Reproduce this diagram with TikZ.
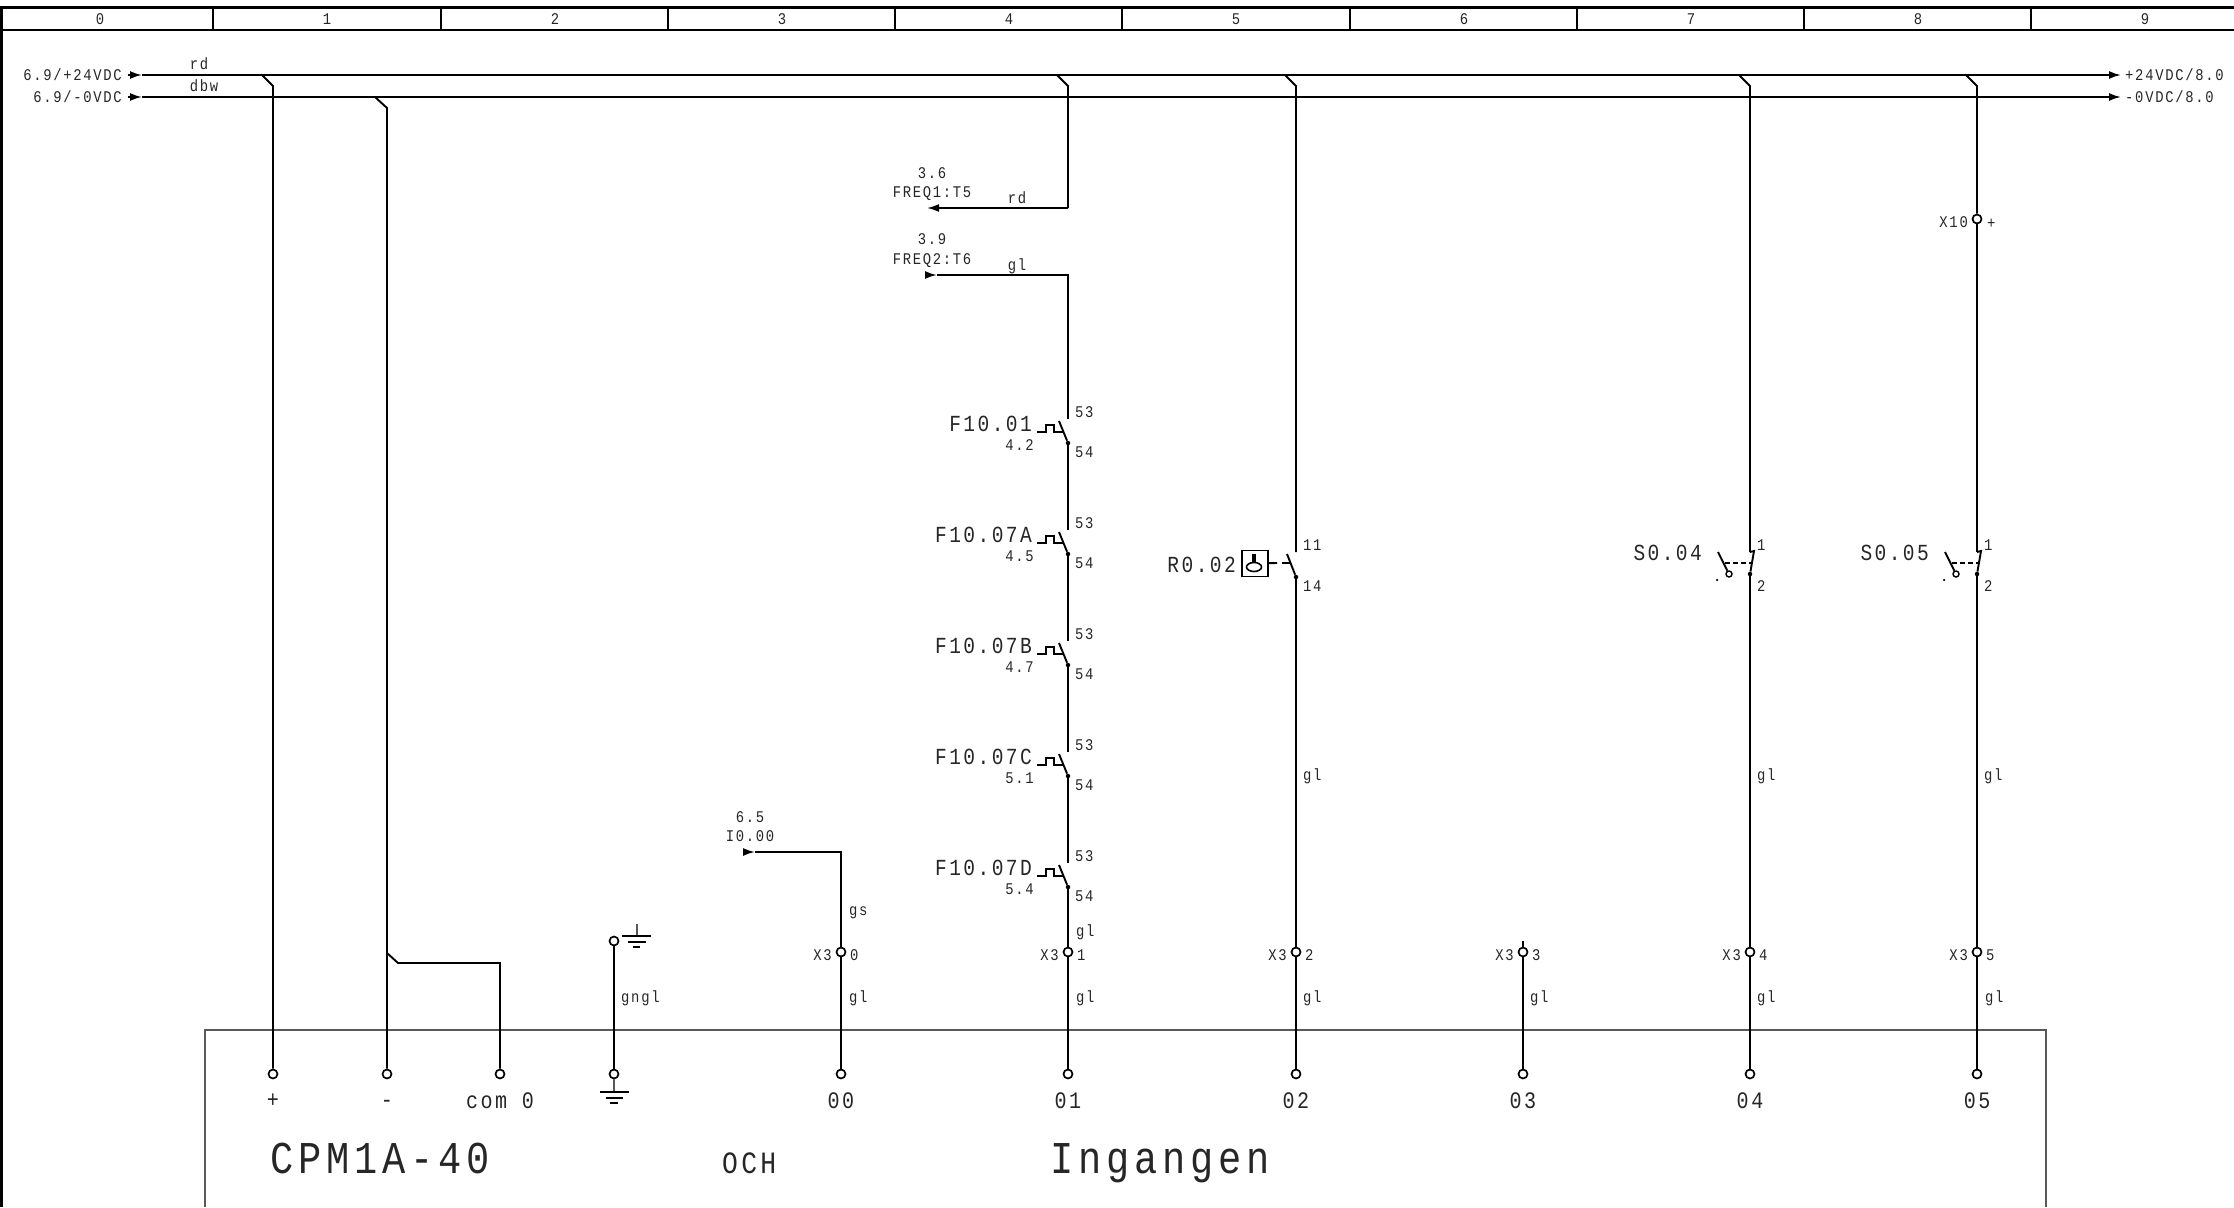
\documentclass[tikz,border=0pt]{standalone}
\usepackage{fontspec}
\newfontfamily\cadfont[LetterSpace=10.5,FakeStretch=0.85]{Liberation Mono}
\usetikzlibrary{arrows.meta,shapes.geometric}
\newcommand{\cadsmall}{\fontsize{16.3}{18}\cadfont}
\newcommand{\cadmid}{\fontsize{23}{26}\cadfont}
\newcommand{\cadbig}{\fontsize{45.5}{48}\cadfont}
\newcommand{\cadport}{\fontsize{23.6}{26}\cadfont}
\newcommand{\cadoch}{\fontsize{31}{34}\cadfont}
\begin{document}
\begin{tikzpicture}
[
    x=1pt, y=-1pt,
    wire/.style={line width=1.9pt, line join=miter},
    thinline/.style={line width=1.1pt, draw=black!65},
    term/.style={circle, draw, fill=white, line width=1.7pt, minimum size=9pt, inner sep=0pt},
    dot/.style={circle, fill=black, minimum size=4.5pt, inner sep=0pt},
    txt/.style={inner sep=0pt, font=\cadsmall, text=black!85},
    mid/.style={inner sep=0pt, font=\cadmid, text=black!85},
    port/.style={inner sep=0pt, font=\cadport, text=black!85},
    tipl/.style={-{Latex[length=12pt,width=8pt]}},
    contact/.pic={
        \coordinate (top) at (0,-24);
        \node[dot] (d) at (0,0) {};
        \coordinate (b) at (-9,-22);
        \coordinate (a1) at (-31,-11);
        \coordinate (a2) at (-22,-11);
        \coordinate (a3) at (-22,-18);
        \coordinate (a4) at (-14,-18);
        \coordinate (a5) at (-14,-11);
        \coordinate (a6) at (-5,-11);
        \draw[wire] (d) -- (b);
        \draw[wire,line width=1.6pt] (a1) -- (a2) -- (a3) -- (a4) -- (a5) -- (a6);
    },
    pushb/.pic={
        \coordinate (top) at (0,-22);
        \coordinate (st) at (4,-23);
        \node[dot] (d) at (0,0) {};
        \coordinate (h) at (2,-11);
        \coordinate (k) at (-25,-11);
        \coordinate (b1) at (-32,-22);
        \node[circle, draw, fill=white, line width=1.4pt, minimum size=6pt, inner sep=0pt] (r) at (-21,0) {};
        \node[circle, fill=black, minimum size=2.5pt, inner sep=0pt] (e) at (-33,6) {};
        \draw[wire] (d) -- (st) -- (top);
        \draw[wire] (b1) -- (r);
        \draw[wire,dashed,dash pattern=on 5pt off 3pt] (k) -- (h);
    },
]
\useasboundingbox (0,0) rectangle (2234,1207);

% frame and column strip
\draw[line width=3pt] (0,8) -- (2234,8);
\draw[line width=3pt] (1,7) -- (1,1207);
\coordinate (stripl) at (0,30);
\coordinate (stripr) at (2234,30);
\draw[line width=1.3pt] (stripl) -- (stripr);
\draw[line width=1.1pt] (213,8) -- (213,30);
\draw[line width=1.1pt] (441,8) -- (441,30);
\draw[line width=1.1pt] (668,8) -- (668,30);
\draw[line width=1.1pt] (895,8) -- (895,30);
\draw[line width=1.1pt] (1122,8) -- (1122,30);
\draw[line width=1.1pt] (1350,8) -- (1350,30);
\draw[line width=1.1pt] (1577,8) -- (1577,30);
\draw[line width=1.1pt] (1804,8) -- (1804,30);
\draw[line width=1.1pt] (2031,8) -- (2031,30);
\node[txt, anchor=base] (col0) at (100,25) {0};
\node[txt, anchor=base] (col1) at (327,25) {1};
\node[txt, anchor=base] (col2) at (555,25) {2};
\node[txt, anchor=base] (col3) at (782,25) {3};
\node[txt, anchor=base] (col4) at (1009,25) {4};
\node[txt, anchor=base] (col5) at (1236,25) {5};
\node[txt, anchor=base] (col6) at (1464,25) {6};
\node[txt, anchor=base] (col7) at (1691,25) {7};
\node[txt, anchor=base] (col8) at (1918,25) {8};
\node[txt, anchor=base] (col9) at (2145,25) {9};

% plc box
\draw[thinline] (205,1207) -- (205,1030) -- (2046,1030) -- (2046,1207);

% buses
\coordinate (pstub) at (128,75);
\coordinate (ptip) at (142,75);
\coordinate (pend) at (2121,75);
\coordinate (mstub) at (128,97);
\coordinate (mtip) at (142,97);
\coordinate (mend) at (2121,97);
\draw[wire, tipl] (pstub) -- (ptip);
\draw[wire, tipl] (mstub) -- (mtip);
\draw[wire, tipl] (ptip) -- (pend);
\draw[wire, tipl] (mtip) -- (mend);
\node[txt, anchor=base east] (inp) at (122,80) {6.9/+24VDC};
\node[txt, anchor=base east] (inm) at (122,102) {6.9/-0VDC};
\node[txt, anchor=base] (rdbus) at (199,70) {rd};
\node[txt, anchor=base] (dbwbus) at (204,92) {dbw};
\node[txt, anchor=base west] (outp) at (2125,80) {+24VDC/8.0};
\node[txt, anchor=base west] (outm) at (2125,102) {-0VDC/8.0};

% terminals on the plc
\node[term] (tplus) at (273,1074) {};
\node[term] (tminus) at (387,1074) {};
\node[term] (tcom) at (500,1074) {};
\node[term] (tgnd) at (614,1074) {};
\node[term] (t00) at (841,1074) {};
\node[term] (t01) at (1068,1074) {};
\node[term] (t02) at (1296,1074) {};
\node[term] (t03) at (1523,1074) {};
\node[term] (t04) at (1750,1074) {};
\node[term] (t05) at (1977,1074) {};
\node[port, anchor=base] (lplus) at (273,1107) {+};
\node[port, anchor=base] (lminus) at (387,1107) {-};
\node[port, anchor=base] (lcom) at (500,1108) {com 0};
\node[port, anchor=base] (l00) at (841,1108) {00};
\node[port, anchor=base] (l01) at (1068,1108) {01};
\node[port, anchor=base] (l02) at (1296,1108) {02};
\node[port, anchor=base] (l03) at (1523,1108) {03};
\node[port, anchor=base] (l04) at (1750,1108) {04};
\node[port, anchor=base] (l05) at (1977,1108) {05};
\node[inner sep=0pt, font=\cadbig, text=black!85, anchor=base west] (plcname) at (270,1173) {CPM1A-40};
\node[inner sep=0pt, font=\cadoch, text=black!85, anchor=base west] (och) at (722,1173) {OCH};
\node[inner sep=0pt, font=\cadbig, text=black!85, anchor=base west] (ing) at (1050,1173) {Ingangen};

% supply wires
\coordinate (tap1) at (262,75);
\coordinate (tap1b) at (273,86);
\coordinate (tap2) at (375,97);
\coordinate (tap2b) at (387,108);
\coordinate (com1) at (387,953);
\coordinate (com2) at (398,963);
\coordinate (com3) at (500,963);
\draw[wire] (tap1) -- (tap1b) -- (tplus);
\draw[wire] (tap2) -- (tap2b) -- (tminus);
\draw[wire] (com1) -- (com2) -- (com3) -- (tcom);

% earth
\node[term] (tgndt) at (614,941) {};
\draw[wire] (tgndt) -- (tgnd);
\node[txt, anchor=base west] (gngl) at (621,1002) {gngl};
\draw[thinline] (637,924) -- (637,936);
\draw[wire, line width=1.3pt] (622,936) -- (651,936);
\draw[wire] (628,942) -- (646,942);
\draw[wire] (633,947) -- (640,947);
\draw[thinline] (tgnd) -- (614,1092);
\draw[wire, line width=1.3pt] (600,1092) -- (629,1092);
\draw[wire] (606,1098) -- (623,1098);
\draw[wire] (610,1103) -- (618,1103);

% input 00
\node[term] (x0) at (841,952) {};
\coordinate (i0c) at (841,852);
\coordinate (i0t) at (755,852);
\coordinate (i0s) at (743,852);
\draw[wire, tipl] (i0s) -- (i0t);
\draw[wire] (i0t) -- (i0c) -- (x0);
\draw[wire] (x0) -- (t00);
\node[txt, anchor=base] (i0a) at (750,822) {6.5};
\node[txt, anchor=base] (i0b) at (750,841) {I0.00};
\node[txt, anchor=base west] (w0a) at (849,915) {gs};
\node[txt, anchor=base east] (x0l) at (832,960) {X3};
\node[txt, anchor=base west] (x0r) at (850,960) {0};
\node[txt, anchor=base west] (w0b) at (849,1002) {gl};

% input 01
\coordinate (tap3) at (1057,75);
\coordinate (tap3b) at (1068,86);
\coordinate (f1c) at (1068,208);
\coordinate (f1t) at (927,208);
\coordinate (f2c) at (1068,275);
\coordinate (f2t) at (937,275);
\coordinate (f2s) at (925,275);
\draw[wire] (tap3) -- (tap3b) -- (f1c);
\draw[wire, tipl] (f1c) -- (f1t);
\draw[wire, tipl] (f2s) -- (f2t);
\node[txt, anchor=base] (f1a) at (932,178) {3.6};
\node[txt, anchor=base] (f1b) at (932,197) {FREQ1:T5};
\node[txt, anchor=base] (f1w) at (1017,203) {rd};
\node[txt, anchor=base] (f2a) at (932,244) {3.9};
\node[txt, anchor=base] (f2b) at (932,264) {FREQ2:T6};
\node[txt, anchor=base] (f2w) at (1017,270) {gl};
\pic (fa) at (1068,443) {contact};
\pic (fb) at (1068,554) {contact};
\pic (fc) at (1068,665) {contact};
\pic (fd) at (1068,776) {contact};
\pic (fe) at (1068,887) {contact};
\node[term] (x1) at (1068,952) {};
\draw[wire] (f2t) -- (f2c) -- (fatop);
\draw[wire] (fad) -- (fbtop);
\draw[wire] (fbd) -- (fctop);
\draw[wire] (fcd) -- (fdtop);
\draw[wire] (fdd) -- (fetop);
\draw[wire] (fed) -- (x1);
\draw[wire] (x1) -- (t01);
\node[mid, anchor=base east] (fan) at (1032,431) {F10.01};
\node[txt, anchor=base east] (far) at (1034,450) {4.2};
\node[txt, anchor=base west] (faa) at (1075,417) {53};
\node[txt, anchor=base west] (fab) at (1075,457) {54};
\node[mid, anchor=base east] (fbn) at (1032,542) {F10.07A};
\node[txt, anchor=base east] (fbr) at (1034,561) {4.5};
\node[txt, anchor=base west] (fba) at (1075,528) {53};
\node[txt, anchor=base west] (fbb) at (1075,568) {54};
\node[mid, anchor=base east] (fcn) at (1032,653) {F10.07B};
\node[txt, anchor=base east] (fcr) at (1034,672) {4.7};
\node[txt, anchor=base west] (fca) at (1075,639) {53};
\node[txt, anchor=base west] (fcb) at (1075,679) {54};
\node[mid, anchor=base east] (fdn) at (1032,764) {F10.07C};
\node[txt, anchor=base east] (fdr) at (1034,783) {5.1};
\node[txt, anchor=base west] (fda) at (1075,750) {53};
\node[txt, anchor=base west] (fdb) at (1075,790) {54};
\node[mid, anchor=base east] (fen) at (1032,875) {F10.07D};
\node[txt, anchor=base east] (fer) at (1034,894) {5.4};
\node[txt, anchor=base west] (fea) at (1075,861) {53};
\node[txt, anchor=base west] (feb) at (1075,901) {54};
\node[txt, anchor=base west] (w1a) at (1076,936) {gl};
\node[txt, anchor=base east] (x1l) at (1059,960) {X3};
\node[txt, anchor=base west] (x1r) at (1077,960) {1};
\node[txt, anchor=base west] (w1b) at (1076,1002) {gl};

% input 02
\coordinate (tap4) at (1285,75);
\coordinate (tap4b) at (1296,86);
\coordinate (s2top) at (1296,552);
\coordinate (s2b) at (1287,554);
\node[dot] (s2d) at (1296,577) {};
\node[draw, line width=1.6pt, minimum size=26pt, inner sep=0pt] (s2box) at (1255,563.5) {};
\node[ellipse, draw, line width=1.6pt, minimum width=15pt, minimum height=9pt, inner sep=0pt] (s2key) at (1254,567) {};
\node[term] (x2) at (1296,952) {};
\coordinate (s2k1) at (1277,563);
\coordinate (s2k2) at (1282,563);
\coordinate (s2k3) at (1290,563);
\coordinate (s2st) at (1254,554);
\draw[wire] (tap4) -- (tap4b) -- (s2top);
\draw[wire] (s2d) -- (s2b);
\draw[wire] (s2box) -- (s2k1);
\draw[wire] (s2k2) -- (s2k3);
\draw[wire, line width=4pt] (s2st) -- (s2key);
\draw[wire] (s2d) -- (x2);
\draw[wire] (x2) -- (t02);
\node[mid, anchor=base east] (s2n) at (1236,572) {R0.02};
\node[txt, anchor=base west] (s2a) at (1303,550) {11};
\node[txt, anchor=base west] (s2c) at (1303,591) {14};
\node[txt, anchor=base west] (w2a) at (1303,780) {gl};
\node[txt, anchor=base east] (x2l) at (1287,960) {X3};
\node[txt, anchor=base west] (x2r) at (1305,960) {2};
\node[txt, anchor=base west] (w2b) at (1303,1002) {gl};

% input 03
\coordinate (x3st) at (1523,941);
\node[term] (x3) at (1523,952) {};
\draw[wire] (x3st) -- (x3);
\draw[wire] (x3) -- (t03);
\node[txt, anchor=base east] (x3l) at (1514,960) {X3};
\node[txt, anchor=base west] (x3r) at (1532,960) {3};
\node[txt, anchor=base west] (w3b) at (1530,1002) {gl};

% input 04
\coordinate (tap5) at (1739,75);
\coordinate (tap5b) at (1750,86);
\pic (sf) at (1750,574) {pushb};
\node[term] (x4) at (1750,952) {};
\draw[wire] (tap5) -- (tap5b) -- (sftop);
\draw[wire] (sfd) -- (x4);
\draw[wire] (x4) -- (t04);
\node[mid, anchor=base east] (sfn) at (1702,560) {S0.04};
\node[txt, anchor=base west] (sfa) at (1757,550) {1};
\node[txt, anchor=base west] (sfb) at (1757,591) {2};
\node[txt, anchor=base west] (w4a) at (1757,780) {gl};
\node[txt, anchor=base east] (x4l) at (1741,960) {X3};
\node[txt, anchor=base west] (x4r) at (1759,960) {4};
\node[txt, anchor=base west] (w4b) at (1757,1002) {gl};

% input 05
\coordinate (tap6) at (1966,75);
\coordinate (tap6b) at (1977,86);
\node[term] (x10) at (1977,219) {};
\pic (sg) at (1977,574) {pushb};
\node[term] (x5) at (1977,952) {};
\draw[wire] (tap6) -- (tap6b) -- (x10);
\draw[wire] (x10) -- (sgtop);
\draw[wire] (sgd) -- (x5);
\draw[wire] (x5) -- (t05);
\node[txt, anchor=base east] (x10l) at (1968,227) {X10};
\node[txt, anchor=base west] (x10r) at (1987,228) {+};
\node[mid, anchor=base east] (sgn) at (1929,560) {S0.05};
\node[txt, anchor=base west] (sga) at (1984,550) {1};
\node[txt, anchor=base west] (sgb) at (1984,591) {2};
\node[txt, anchor=base west] (w5a) at (1984,780) {gl};
\node[txt, anchor=base east] (x5l) at (1968,960) {X3};
\node[txt, anchor=base west] (x5r) at (1986,960) {5};
\node[txt, anchor=base west] (w5b) at (1985,1002) {gl};
\end{tikzpicture}
\end{document}
